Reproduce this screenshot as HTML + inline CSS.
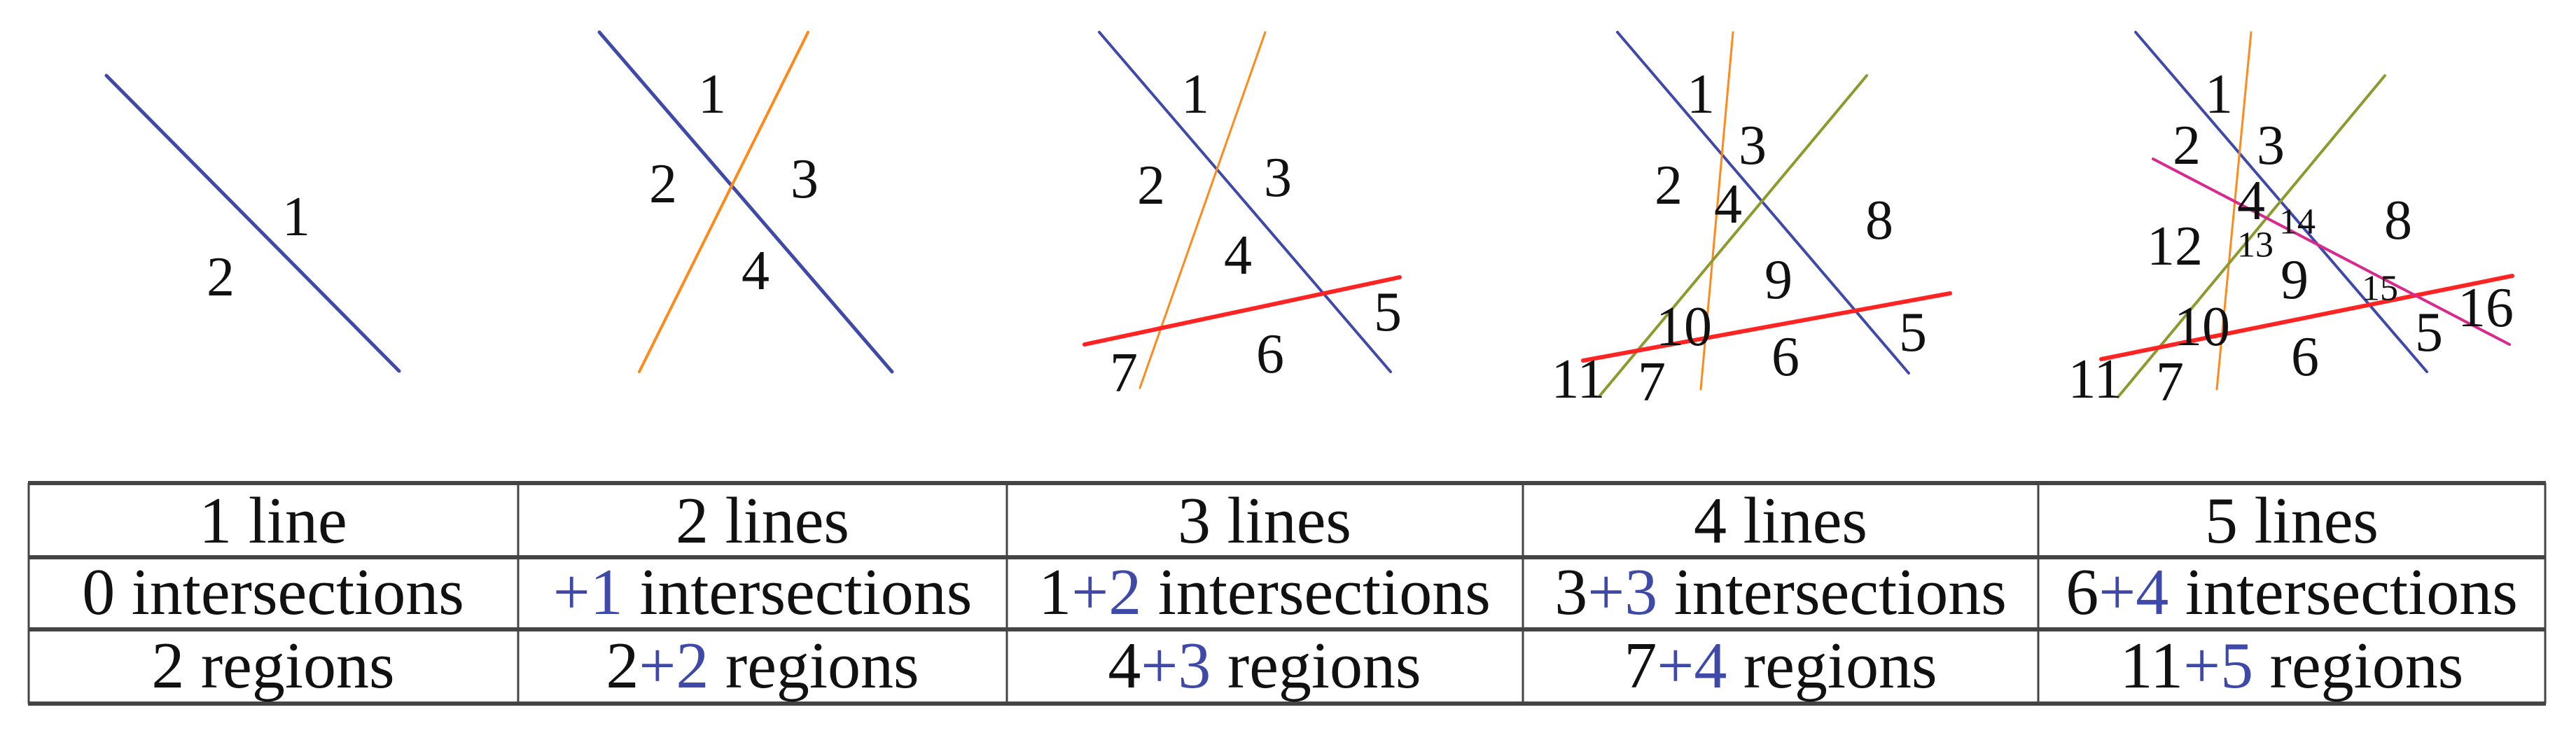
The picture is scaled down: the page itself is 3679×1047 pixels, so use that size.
<!DOCTYPE html>
<html><head><meta charset="utf-8"><style>
html,body{margin:0;padding:0;background:#fff;}
svg{display:block;}
</style></head><body>
<svg width="3679" height="1047" viewBox="0 0 3679 1047" xmlns="http://www.w3.org/2000/svg">
<g stroke-linecap="round" fill="none">
<line x1="152" y1="108" x2="570" y2="530" stroke="#3f4aa8" stroke-width="5"/>
<line x1="856" y1="46" x2="1274" y2="531" stroke="#3f4aa8" stroke-width="5"/>
<line x1="1154" y1="46" x2="913" y2="531" stroke="#ff8a1c" stroke-width="4"/>
<line x1="1570" y1="46" x2="1986" y2="531" stroke="#3f4aa8" stroke-width="4"/>
<line x1="1807" y1="46" x2="1628" y2="554" stroke="#ff8a1c" stroke-width="3"/>
<line x1="1549" y1="492" x2="1999" y2="396" stroke="#ff2424" stroke-width="6"/>
<line x1="2310" y1="46" x2="2726" y2="533" stroke="#3f4aa8" stroke-width="4"/>
<line x1="2475" y1="46" x2="2429" y2="556" stroke="#ff8a1c" stroke-width="3"/>
<line x1="2666" y1="108" x2="2285" y2="565" stroke="#8c9a2e" stroke-width="4"/>
<line x1="2261" y1="515" x2="2785" y2="419" stroke="#ff2424" stroke-width="6"/>
<line x1="3050" y1="46" x2="3466" y2="531" stroke="#3f4aa8" stroke-width="4"/>
<line x1="3215" y1="46" x2="3166" y2="556" stroke="#ff8a1c" stroke-width="3"/>
<line x1="3406" y1="108" x2="3025" y2="567" stroke="#8c9a2e" stroke-width="4"/>
<line x1="3001" y1="513" x2="3588" y2="394" stroke="#ff2424" stroke-width="6"/>
<line x1="3075" y1="227" x2="3584" y2="492" stroke="#d82a8c" stroke-width="4"/>
</g>
<g font-family="Liberation Serif, serif" fill="#111" font-size="80" text-anchor="middle" dominant-baseline="central">
<text x="423" y="310">1</text><text x="315" y="396">2</text>
<text x="1017" y="135">1</text><text x="947" y="263">2</text><text x="1149" y="256">3</text><text x="1079" y="387">4</text>
<text x="1707" y="135">1</text><text x="1644" y="265">2</text><text x="1825" y="254">3</text><text x="1768" y="365">4</text><text x="1982" y="446">5</text><text x="1814" y="506">6</text><text x="1605" y="533">7</text>
<text x="2429" y="135">1</text><text x="2503" y="208">3</text><text x="2383" y="265">2</text><text x="2468" y="292">4</text><text x="2684" y="315">8</text><text x="2540" y="400">9</text><text x="2405" y="467">10</text><text x="2732" y="475">5</text><text x="2550" y="510">6</text><text x="2254" y="542">11</text><text x="2359" y="546">7</text>
<text x="3169" y="135">1</text><text x="3123" y="208">2</text><text x="3243" y="208">3</text><text x="3215" y="287">4</text><text x="3425" y="315">8</text><text x="3106" y="352">12</text><text x="3277" y="400">9</text><text x="3550" y="440">16</text><text x="3145" y="467">10</text><text x="3469" y="475">5</text><text x="3292" y="510">6</text><text x="2992" y="542">11</text><text x="3099" y="546">7</text>
<text x="3281" y="317" font-size="52">14</text><text x="3221" y="350" font-size="52">13</text><text x="3399" y="412" font-size="52">15</text>
</g>
<g stroke="#444">
<line x1="40" y1="690" x2="3636" y2="690" stroke-width="6"/>
<line x1="40" y1="796" x2="3636" y2="796" stroke-width="6"/>
<line x1="40" y1="899" x2="3636" y2="899" stroke-width="6"/>
<line x1="40" y1="1005" x2="3636" y2="1005" stroke-width="6"/>
<line x1="41" y1="690" x2="41" y2="1005" stroke-width="3"/>
<line x1="740" y1="690" x2="740" y2="1005" stroke-width="3"/>
<line x1="1438" y1="690" x2="1438" y2="1005" stroke-width="3"/>
<line x1="2175" y1="690" x2="2175" y2="1005" stroke-width="3"/>
<line x1="2911" y1="690" x2="2911" y2="1005" stroke-width="3"/>
<line x1="3635" y1="690" x2="3635" y2="1005" stroke-width="3"/>
</g>
<g font-family="Liberation Serif, serif" fill="#111" font-size="94" text-anchor="middle" dominant-baseline="central">
<text x="390" y="744">1 line</text>
<text x="1089" y="744">2 lines</text>
<text x="1806" y="744">3 lines</text>
<text x="2543" y="744">4 lines</text>
<text x="3273" y="744">5 lines</text>
<text x="390" y="846">0 intersections</text>
<text x="1089" y="846"><tspan fill="#3f4aa8">+1</tspan> intersections</text>
<text x="1806" y="846">1<tspan fill="#3f4aa8">+2</tspan> intersections</text>
<text x="2543" y="846">3<tspan fill="#3f4aa8">+3</tspan> intersections</text>
<text x="3273" y="846">6<tspan fill="#3f4aa8">+4</tspan> intersections</text>
<text x="390" y="951">2 regions</text>
<text x="1089" y="951">2<tspan fill="#3f4aa8">+2</tspan> regions</text>
<text x="1806" y="951">4<tspan fill="#3f4aa8">+3</tspan> regions</text>
<text x="2543" y="951">7<tspan fill="#3f4aa8">+4</tspan> regions</text>
<text x="3273" y="951">11<tspan fill="#3f4aa8">+5</tspan> regions</text>
</g>
</svg>
</body></html>
